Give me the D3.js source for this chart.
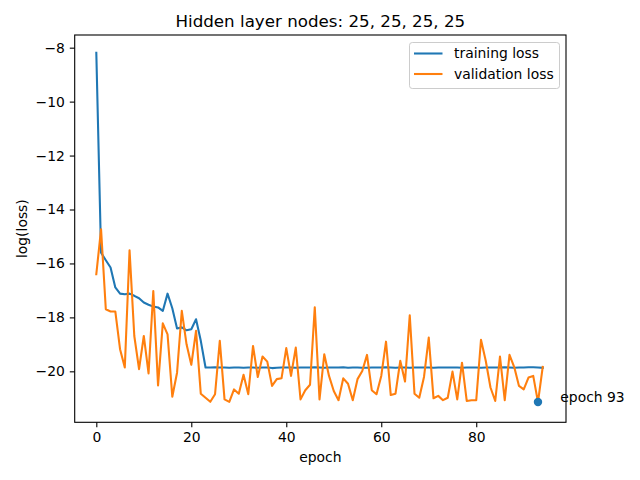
<!DOCTYPE html>
<html>
<head>
<meta charset="utf-8">
<script src="https://cdn.jsdelivr.net/npm/d3@7"></script>
<style>
  body { margin: 0; background: #fff; }
  text { font-family: "DejaVu Sans", sans-serif; fill: #000; }
</style>
</head>
<body>
<svg id="chart" width="640" height="480"></svg>
<script>
// values
var title = "Hidden layer nodes: 25, 25, 25, 25";
var seriesNames = ["training loss", "validation loss"];
var xTicks = [0, 20, 40, 60, 80];
var yTicks = [-20, -18, -16, -14, -12, -10, -8];

var trainLoss = [-8.19, -15.60, -15.88, -16.15, -16.89, -17.12, -17.14, -17.12, -17.20, -17.29,
  -17.45, -17.53, -17.60, -17.63, -17.76, -17.12, -17.66, -18.41, -18.37, -18.48,
  -18.44, -18.07, -18.87, -19.86, -19.86, -19.85, -19.86, -19.86, -19.87, -19.86,
  -19.86, -19.87, -19.86, -19.86, -19.87, -19.86, -19.86, -19.88, -19.87, -19.86,
  -19.86, -19.86, -19.87, -19.86, -19.86, -19.86, -19.85, -19.86, -19.87, -19.86,
  -19.86, -19.86, -19.85, -19.87, -19.86, -19.86, -19.87, -19.87, -19.86, -19.86,
  -19.86, -19.85, -19.86, -19.87, -19.86, -19.86, -19.87, -19.86, -19.86, -19.86,
  -19.86, -19.87, -19.86, -19.86, -19.86, -19.86, -19.86, -19.87, -19.86, -19.86,
  -19.86, -19.87, -19.86, -19.86, -19.86, -19.86, -19.85, -19.86, -19.87, -19.86,
  -19.86, -19.85, -19.85, -19.86, -19.87];

var validLoss = [-16.40, -14.73, -17.70, -17.78, -17.78, -19.18, -19.86, -15.51, -18.69, -19.92,
  -18.69, -20.08, -17.02, -20.52, -18.22, -18.63, -20.94, -20.05, -17.76, -19.00,
  -19.76, -18.50, -20.83, -20.98, -21.13, -20.85, -18.87, -21.04, -21.13, -20.67,
  -20.83, -20.13, -20.85, -19.06, -20.21, -19.45, -19.64, -20.54, -20.29, -20.26,
  -19.14, -20.17, -19.12, -21.04, -20.70, -20.50, -17.63, -21.04, -19.37, -20.17,
  -20.73, -21.07, -20.26, -20.46, -21.07, -20.29, -19.99, -19.39, -20.70, -20.85,
  -20.17, -18.90, -20.88, -20.83, -19.61, -20.38, -17.92, -20.83, -20.98, -20.21,
  -18.75, -21.00, -20.91, -21.07, -20.98, -20.01, -21.04, -19.68, -21.10, -21.07,
  -21.07, -18.83, -19.61, -20.60, -21.10, -19.45, -21.07, -19.39, -19.84, -20.54,
  -20.67, -20.23, -20.17, -21.14, -19.84];

var bestEpoch = 93;

var svg = d3.select("#chart");
var plotLeft = 74.7, plotRight = 566, plotTop = 35, plotBottom = 422.3;

var x = d3.scaleLinear().domain([-4.55, 98.9]).range([plotLeft, plotRight]);
var y = d3.scaleLinear().domain([-21.89, -7.53]).range([plotBottom, plotTop]);

var colors = ["#1f77b4", "#ff7f0e"];
var fs = "13.9px";

// axes
var xAxis = d3.axisBottom(x).tickValues(xTicks).tickSize(4.9).tickPadding(4.9).tickFormat(d3.format("d"));
var yAxis = d3.axisLeft(y).tickValues(yTicks).tickSize(4.9).tickPadding(4.9).tickFormat(d3.format("d"));

var gx = svg.append("g").attr("transform", "translate(0," + plotBottom + ")").call(xAxis);
var gy = svg.append("g").attr("transform", "translate(" + plotLeft + ",0)").call(yAxis);
[gx, gy].forEach(function(g) {
  g.select(".domain").remove();
  g.selectAll(".tick line").attr("stroke", "#000").attr("stroke-width", 1.1);
  g.selectAll(".tick text").style("font-family", "DejaVu Sans").style("font-size", fs).attr("fill", "#000");
});

// lines
var line = d3.line()
  .x(function(d, i) { return x(i); })
  .y(function(d) { return y(d); });

[trainLoss, validLoss].forEach(function(series, k) {
  svg.append("path")
    .datum(series)
    .attr("fill", "none")
    .attr("stroke", colors[k])
    .attr("stroke-width", 2.08)
    .attr("stroke-linejoin", "round")
    .attr("stroke-linecap", "square")
    .attr("d", line);
});

// best epoch marker
svg.append("circle")
  .attr("cx", x(bestEpoch))
  .attr("cy", y(validLoss[bestEpoch]))
  .attr("r", 4.2)
  .attr("fill", colors[0]);

svg.append("text")
  .attr("x", x(bestEpoch + 4.7))
  .attr("y", y(validLoss[bestEpoch]))
  .style("font-size", fs)
  .text("epoch " + bestEpoch);

// frame
svg.append("rect")
  .attr("x", plotLeft).attr("y", plotTop)
  .attr("width", plotRight - plotLeft).attr("height", plotBottom - plotTop)
  .attr("fill", "none").attr("stroke", "#000").attr("stroke-width", 1.1);

// title and labels
svg.append("text")
  .attr("x", (plotLeft + plotRight) / 2).attr("y", 26.5)
  .attr("text-anchor", "middle")
  .style("font-size", "16.7px")
  .text(title);

svg.append("text")
  .attr("x", (plotLeft + plotRight) / 2).attr("y", 461.5)
  .attr("text-anchor", "middle")
  .style("font-size", fs)
  .text("epoch");

svg.append("text")
  .attr("transform", "translate(26.5," + ((plotTop + plotBottom) / 2) + ") rotate(-90)")
  .attr("text-anchor", "middle")
  .style("font-size", fs)
  .text("log(loss)");

// legend
var leg = svg.append("g");
leg.append("rect")
  .attr("x", 409.5).attr("y", 42.5)
  .attr("width", 150).attr("height", 46)
  .attr("rx", 2.8)
  .attr("fill", "#fff").attr("fill-opacity", 0.8)
  .attr("stroke", "#cccccc").attr("stroke-width", 1);

seriesNames.forEach(function(name, k) {
  var ly = 53.5 + k * 20.5;
  leg.append("line")
    .attr("x1", 414).attr("x2", 442.5)
    .attr("y1", ly).attr("y2", ly)
    .attr("stroke", colors[k]).attr("stroke-width", 2.08);
  leg.append("text")
    .attr("x", 454).attr("y", ly)
    .attr("dy", "0.35em")
    .style("font-size", fs)
    .text(name);
});
</script>
</body>
</html>
